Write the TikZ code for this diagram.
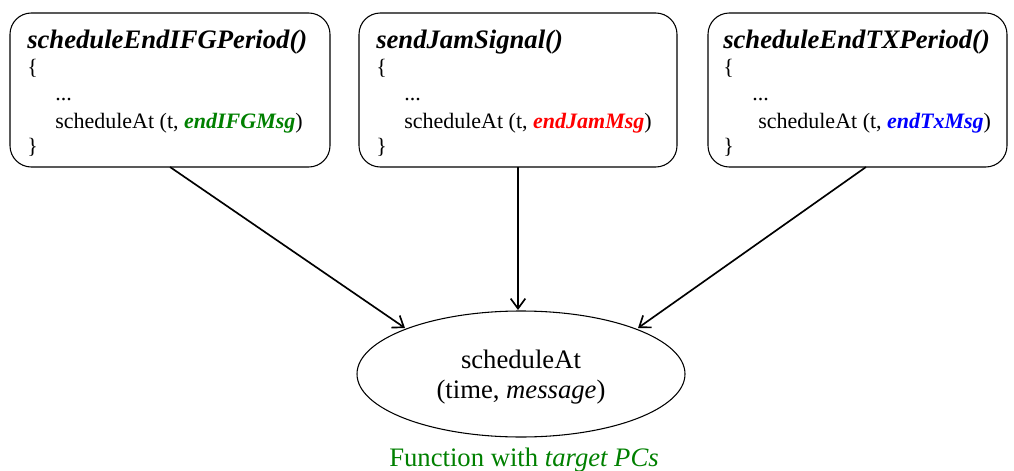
\documentclass[tikz,border=0pt]{standalone}
\usepackage{fontspec}
\setmainfont{Liberation Serif}
\usetikzlibrary{arrows.meta,shapes.geometric}
\definecolor{dgreen}{RGB}{0,128,0}
\definecolor{dred}{RGB}{255,0,0}
\definecolor{dblue}{RGB}{0,0,255}
\tikzset{
  codebox/.style={draw,line width=0.8pt,rounded corners=16pt},
  ttl/.style={anchor=base west,inner sep=0pt,font=\fontsize{20}{24}\selectfont\bfseries\itshape},
  body/.style={anchor=base west,inner sep=0pt,font=\fontsize{16.5}{20}\selectfont},
  big/.style={anchor=base,inner sep=0pt,font=\fontsize{20}{24}\selectfont},
  conn/.style={line width=1.25pt,-{Straight Barb[length=7.5pt,width=11pt,line width=1.25pt]}},
}
\begin{document}
\begin{tikzpicture}[x=0.75pt,y=-0.75pt]
\useasboundingbox (0,0) rectangle (1014,471);
% boxes
\draw[codebox] (10,13) rectangle (330,167);
\draw[codebox] (359,13) rectangle (677,167);
\draw[codebox] (708,13) rectangle (1007,167);
\coordinate (b1) at (170,167);
\coordinate (b2) at (518,167);
\coordinate (b3) at (866,167);
% box 1
\node[ttl] (t1) at (27,48) {scheduleEndIFGPeriod()};
\node[body] (o1) at (27,74) {\{};
\node[body] (d1) at (55,100) {...};
\node[body] (s1) at (55,128) {scheduleAt (t, \textcolor{dgreen}{\bfseries\itshape endIFGMsg})};
\node[body] (c1) at (27,153) {\}};
% box 2
\node[ttl] (t2) at (376,48) {sendJamSignal()};
\node[body] (o2) at (376,74) {\{};
\node[body] (d2) at (404,100) {...};
\node[body] (s2) at (404,128) {scheduleAt (t, \textcolor{dred}{\bfseries\itshape endJamMsg})};
\node[body] (c2) at (376,153) {\}};
% box 3
\node[ttl] (t3) at (723,48) {scheduleEndTXPeriod()};
\node[body] (o3) at (723,74) {\{};
\node[body] (d3) at (752,100) {...};
\node[body] (s3) at (758,128) {scheduleAt (t, \textcolor{dblue}{\bfseries\itshape endTxMsg})};
\node[body] (c3) at (723,153) {\}};
% ellipse
\draw[line width=0.8pt] (521,374) ellipse (164 and 63);
\node[big] (e1) at (521,368) {scheduleAt};
\node[big] (e2) at (521,398) {(time, \textit{message})};
\coordinate (a1) at (405,328);
\coordinate (a2) at (518,310);
\coordinate (a3) at (638,328);
\draw[conn] (b1) -- (a1);
\draw[conn] (b2) -- (a2);
\draw[conn] (b3) -- (a3);
\node[big,text=dgreen] (cap) at (524,466) {Function with \textit{target PCs}};
\end{tikzpicture}
\end{document}
